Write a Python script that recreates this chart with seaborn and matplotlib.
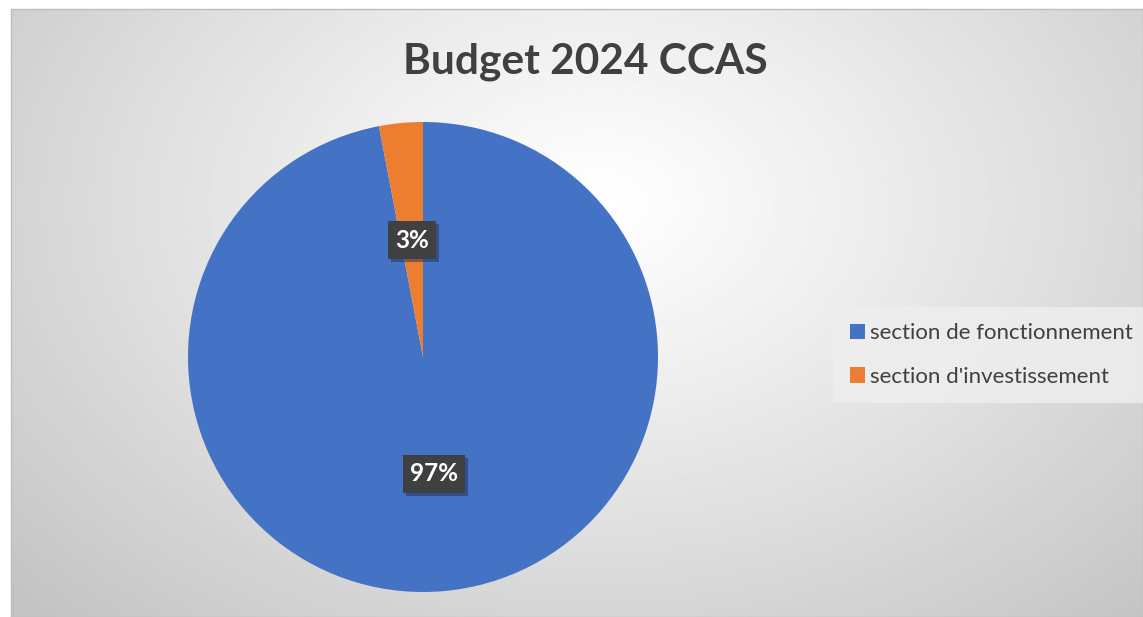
import numpy as np
import matplotlib
matplotlib.use("Agg")
import matplotlib.pyplot as plt
import matplotlib.patheffects as pe
import seaborn as sns

sns.set_style("white")
plt.rcParams['font.family'] = ['Lato', 'DejaVu Sans']

title = "Budget 2024 CCAS"
sections = ["section de fonctionnement", "section d'investissement"]
shares = [97, 3]
colors = ['#4472C4', '#ED7D31']

W, H = 1143, 617
fig = plt.figure(figsize=(W / 100, H / 100), dpi=100)
fig.patch.set_facecolor('white')

# chart area with radial grey gradient
x0, y0 = 11, 9
bg = fig.add_axes([x0 / W, 0, 1 - x0 / W, (H - y0) / H])
gx, gy = np.meshgrid(np.linspace(0, 1, 400), np.linspace(0, 1, 220))
d = np.sqrt(((gx - 0.52) / 0.75) ** 2 + ((gy - 0.32) / 1.0) ** 2)
d = np.clip(d / d.max(), 0, 1)
grad = 1.0 - 0.24 * d ** 1.1
bg.imshow(grad, cmap='gray', vmin=0, vmax=1, aspect='auto', extent=[0, 1, 1, 0])
bg.set_xticks([])
bg.set_yticks([])
for s in bg.spines.values():
    s.set_color('#bdbdbd')
    s.set_linewidth(1)

# pie axes: centre (423, 357), radius 235
cx, cy, r = 423, 357, 235
ax = fig.add_axes([(cx - r) / W, (H - cy - r) / H, 2 * r / W, 2 * r / H])
ax.set_facecolor('none')
wedges, texts, autotexts = ax.pie(
    shares, colors=colors, startangle=90, counterclock=False,
    autopct='%1.0f%%', pctdistance=0.5, radius=1,
    wedgeprops=dict(linewidth=0),
    textprops=dict(color='white', fontsize=17.5, fontweight='bold'))
ax.set_xlim(-1, 1)
ax.set_ylim(-1, 1)
ax.set_aspect('auto')
ax.axis('off')
for t in autotexts:
    t.set_bbox(dict(boxstyle='square,pad=0.3', facecolor='#404040', edgecolor='none'))
    t.get_bbox_patch().set_path_effects([
        pe.SimplePatchShadow(offset=(2, -2), shadow_rgbFace='#1c2f55', alpha=0.5),
        pe.Normal()])

fig.text(585 / W, 1 - 62 / H, title, ha='center', va='center',
         fontsize=30.5, fontweight='bold', color='#404040')

leg = fig.legend(wedges, sections, loc='center left',
                 bbox_to_anchor=(833 / W, 1 - 355 / H),
                 frameon=True, fontsize=16, handlelength=0.7, handleheight=0.7,
                 handletextpad=0.2, labelspacing=1.05, borderpad=0.75,
                 borderaxespad=0, fancybox=False)
leg.get_frame().set_facecolor('#eeeeee')
leg.get_frame().set_edgecolor('none')
leg.get_frame().set_alpha(0.85)
for t in leg.get_texts():
    t.set_color('#404040')

fig.savefig('out.png', dpi=100, facecolor='white')
